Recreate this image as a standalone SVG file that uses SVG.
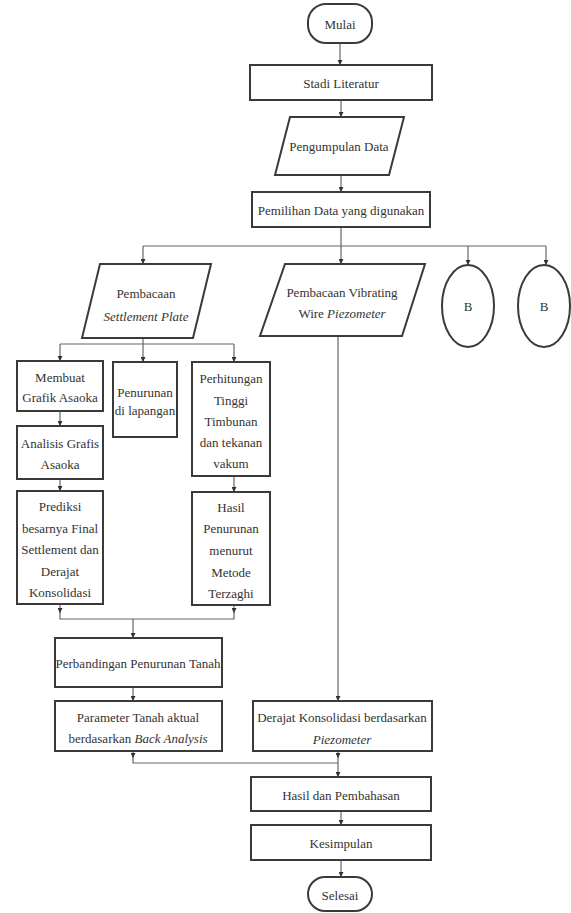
<svg xmlns="http://www.w3.org/2000/svg" width="571" height="913" viewBox="0 0 571 913">
<defs>
<marker id="ah" viewBox="0 0 6 6" refX="6" refY="3" markerWidth="5" markerHeight="5" orient="auto" markerUnits="userSpaceOnUse">
<path d="M0,0 L6,3 L0,6 Z" fill="#333"/>
</marker>
</defs>
<style>
.n{fill:#fff;stroke:#3a3a3a;stroke-width:2}
.c{fill:none;stroke:#666;stroke-width:1.2}
.a{marker-end:url(#ah)}
text{font-family:'Liberation Serif','DejaVu Serif','Times New Roman',Times,serif;font-size:13px;fill:#333;text-anchor:middle;dominant-baseline:central}
.i{font-style:italic}
</style>
<rect width="571" height="913" fill="#fff"/>
<g id="connectors">
<path class="c a" d="M340,43 V65"/>
<path class="c a" d="M341,100 V117"/>
<path class="c a" d="M341,175 V192"/>
<path class="c" d="M341,227 V246 M143,246 H546"/>
<path class="c a" d="M143,246 V264"/>
<path class="c a" d="M341,246 V264"/>
<path class="c a" d="M468,246 V265"/>
<path class="c a" d="M546,246 V265"/>
<path class="c" d="M143,338 V344 M60,344 H234"/>
<path class="c a" d="M60,344 V361"/>
<path class="c a" d="M143,344 V362"/>
<path class="c a" d="M234,344 V362"/>
<path class="c a" d="M60,411 V426"/>
<path class="c a" d="M60,479 V491"/>
<path class="c a" d="M234,476 V492"/>
<path class="c a" d="M60,604 V613"/>
<path class="c a" d="M234,605 V613"/>
<path class="c" d="M60,612 V619 H234 V612"/>
<path class="c a" d="M133,619 V638"/>
<path class="c a" d="M133,687 V701"/>
<path class="c a" d="M133,751 V758"/>
<path class="c" d="M133,757 V763 H338"/>
<path class="c a" d="M338,336 V701"/>
<path class="c a" d="M338,751 V758"/>
<path class="c a" d="M338,757 V777"/>
<path class="c a" d="M341,811 V825"/>
<path class="c a" d="M341,860 V877"/>
</g>
<g id="mulai"><rect class="n" x="308" y="4" width="64" height="39" rx="18"/><text x="340" y="24">Mulai</text></g>
<g id="stadi"><rect class="n" x="250" y="65" width="182" height="35"/><text x="341" y="83">Stadi Literatur</text></g>
<g id="pengumpulan"><polygon class="n" points="290,117 404,117 389,175 275,175"/><text x="339" y="146">Pengumpulan Data</text></g>
<g id="pemilihan"><rect class="n" x="252" y="192" width="178" height="35"/><text x="341" y="210">Pemilihan Data yang digunakan</text></g>
<g id="settlement"><polygon class="n" points="100,264 211,264 193,338 82,338"/><text x="146" y="293">Pembacaan</text><text class="i" x="146" y="316">Settlement Plate</text></g>
<g id="vibrating"><polygon class="n" points="285,264 425,264 402,336 260,336"/><text x="342" y="292">Pembacaan Vibrating</text><text x="342" y="313">Wire <tspan class="i">Piezometer</tspan></text></g>
<g id="b1"><ellipse class="n" cx="468" cy="306" rx="26" ry="41"/><text x="468" y="306">B</text></g>
<g id="b2"><ellipse class="n" cx="544" cy="306" rx="26" ry="41"/><text x="544" y="306">B</text></g>
<g id="membuat"><rect class="n" x="17" y="361" width="86" height="50"/><text x="60" y="377">Membuat</text><text x="60" y="397">Grafik Asaoka</text></g>
<g id="penurunan"><rect class="n" x="113" y="362" width="64" height="75"/><text x="145" y="392">Penurunan</text><text x="145" y="410">di lapangan</text></g>
<g id="perhitungan"><rect class="n" x="192" y="362" width="78" height="114"/><text x="231" y="378">Perhitungan</text><text x="231" y="400">Tinggi</text><text x="231" y="421">Timbunan</text><text x="231" y="442">dan tekanan</text><text x="231" y="463">vakum</text></g>
<g id="analisis"><rect class="n" x="17" y="426" width="86" height="53"/><text x="60" y="443">Analisis Grafis</text><text x="60" y="464">Asaoka</text></g>
<g id="prediksi"><rect class="n" x="17" y="491" width="86" height="113"/><text x="60" y="506">Prediksi</text><text x="60" y="528">besarnya Final</text><text x="60" y="549">Settlement dan</text><text x="60" y="571">Derajat</text><text x="60" y="592">Konsolidasi</text></g>
<g id="hasilpenurunan"><rect class="n" x="192" y="492" width="78" height="113"/><text x="231" y="507">Hasil</text><text x="231" y="528">Penurunan</text><text x="231" y="550">menurut</text><text x="231" y="572">Metode</text><text x="231" y="593">Terzaghi</text></g>
<g id="perbandingan"><rect class="n" x="55" y="638" width="167" height="49"/><text x="138" y="663">Perbandingan Penurunan Tanah</text></g>
<g id="parameter"><rect class="n" x="55" y="701" width="167" height="50"/><text x="138" y="717">Parameter Tanah aktual</text><text x="138" y="738">berdasarkan <tspan class="i">Back Analysis</tspan></text></g>
<g id="derajat"><rect class="n" x="253" y="701" width="179" height="50"/><text x="342" y="717">Derajat Konsolidasi berdasarkan</text><text class="i" x="342" y="739">Piezometer</text></g>
<g id="hasil"><rect class="n" x="251" y="777" width="180" height="34"/><text x="341" y="795">Hasil dan Pembahasan</text></g>
<g id="kesimpulan"><rect class="n" x="251" y="825" width="180" height="35"/><text x="341" y="843">Kesimpulan</text></g>
<g id="selesai"><rect class="n" x="308" y="877" width="64" height="34" rx="17"/><text x="340" y="895">Selesai</text></g>
</svg>
